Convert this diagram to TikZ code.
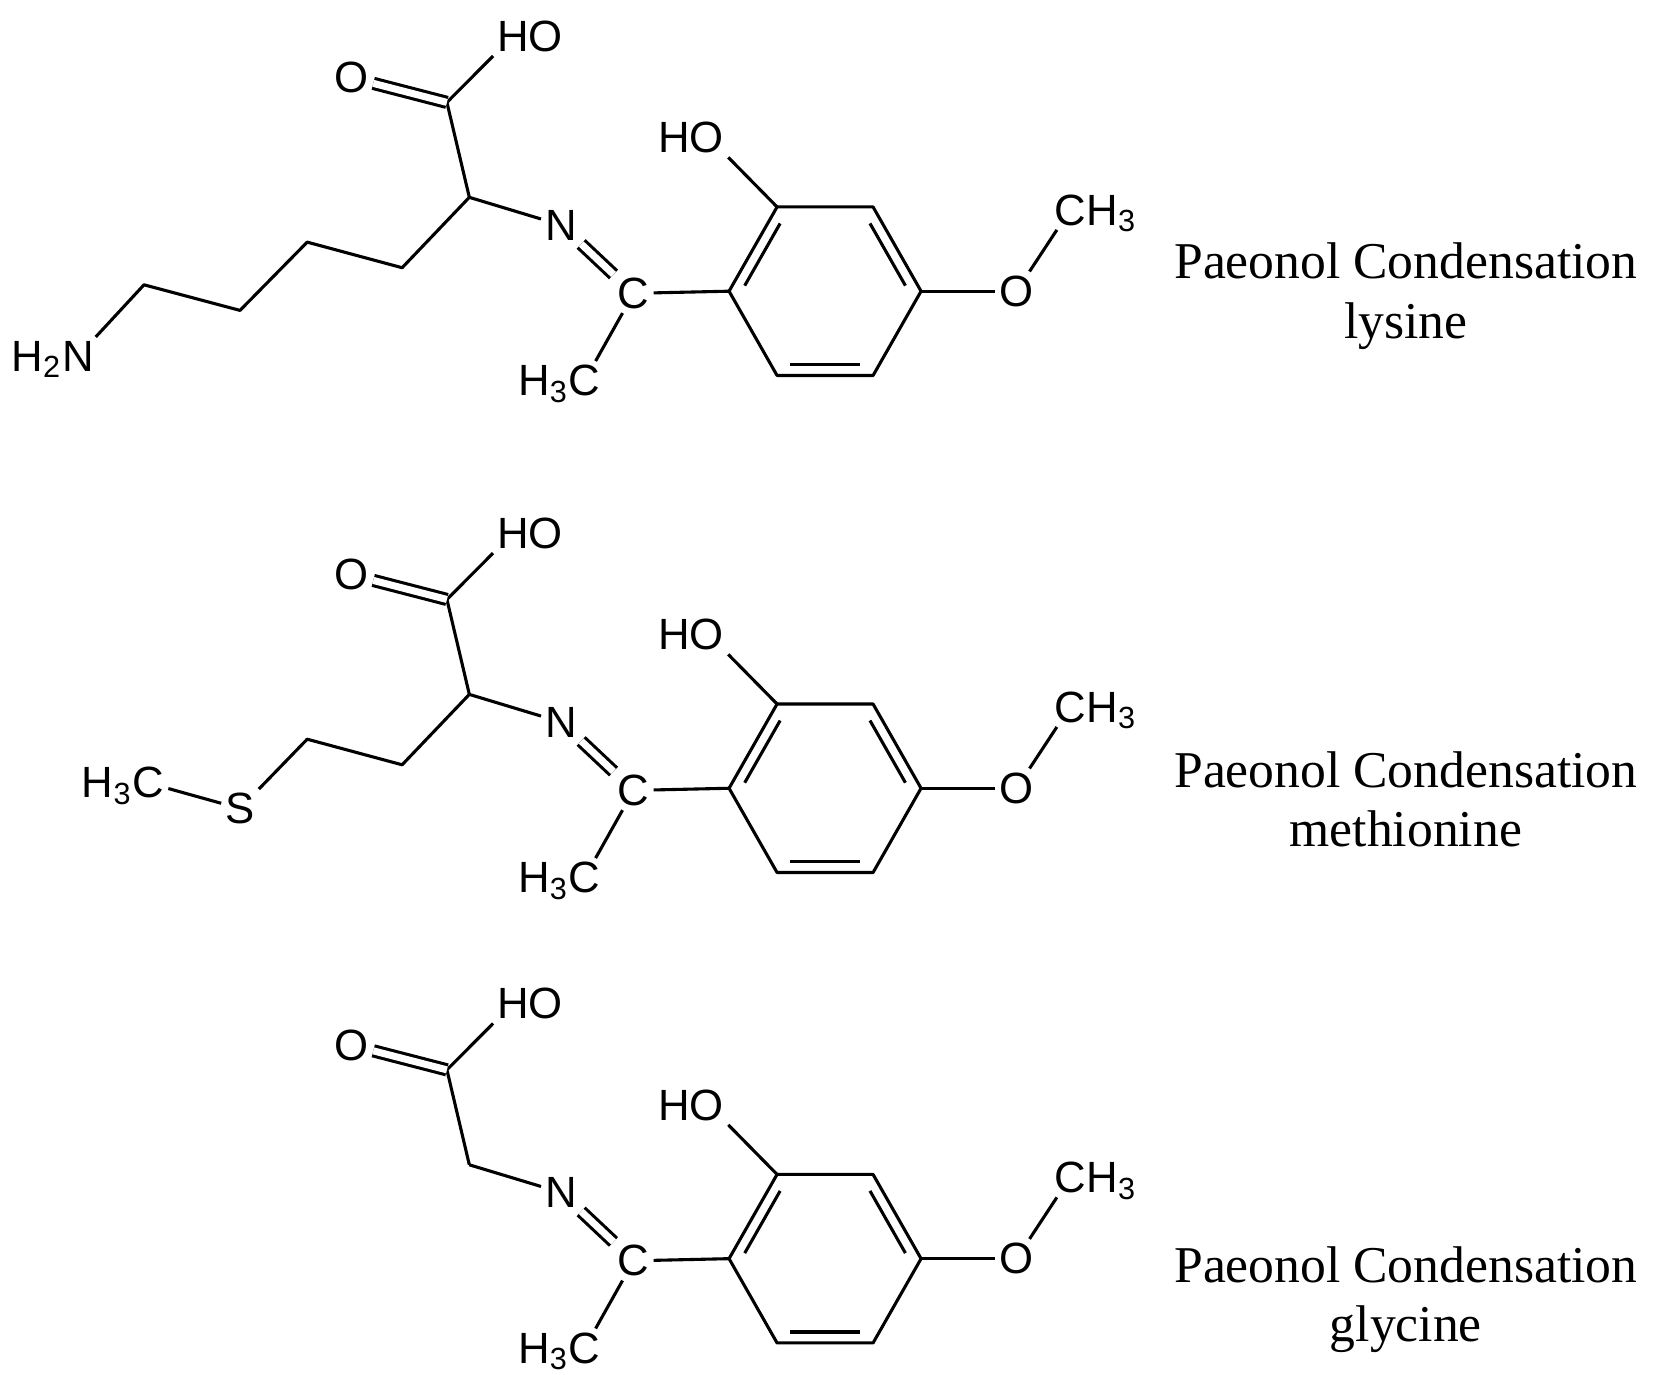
\documentclass[tikz,border=0pt]{standalone}
\usepackage{fontspec}
\setmainfont{Liberation Serif}
\newfontfamily\atomfont{Liberation Sans}
\usetikzlibrary{calc}
\tikzset{
  bond/.style={line width=1.45pt, line join=round},
  dbl/.style={bond, double, double distance=3.3pt},
  atom/.style={inner sep=1.8pt, font=\atomfont\fontsize{20.5}{23}\selectfont},
  hyd/.style={inner sep=0pt, font=\atomfont\fontsize{20.5}{23}\selectfont},
  caption/.style={inner sep=0pt, font=\fontsize{24.2}{29}\selectfont},
  inner/.style={bond, shorten <=3pt, shorten >=3pt},
}
\newcommand\paeonol[2]{%
\begin{scope}[shift={(0,#2)}]
  \coordinate (#1a) at (440,185);
  \coordinate (#1k) at (419,96);
  \node[atom] (#1ok) at (330,73) {O};
  \node[atom] (#1hok) at (497,34) {HO};
  \node[atom] (#1n) at (526,211) {N};
  \node[atom] (#1c) at (594,275) {C};
  \node[atom] (#1mc) at (548,357) {C};
  \node[hyd, anchor=base east] (#1mh) at ([xshift=1.8pt]#1mc.base west) {H\textsubscript{3}};
  \coordinate (#1ctr) at (773.5,273);
  \coordinate (#1L) at (683.5,273);
  \coordinate (#1TL) at (728.5,194);
  \coordinate (#1TR) at (818.5,194);
  \coordinate (#1R) at (863.5,273);
  \coordinate (#1BR) at (818.5,352);
  \coordinate (#1BL) at (728.5,352);
  \node[atom] (#1hor) at (648,129) {HO};
  \node[atom] (#1oe) at (953,273) {O};
  \node[atom] (#1cc) at (1003,197) {C};
  \node[hyd, anchor=base west] (#1ch) at ([xshift=-1.8pt]#1cc.base east) {H\textsubscript{3}};
  \draw[bond] (#1a) -- (#1k) -- (#1hok.south west);
  \draw[dbl] (#1ok) -- (#1k);
  \draw[bond] (#1a) -- (#1n);
  \draw[dbl] (#1n) -- (#1c);
  \draw[bond] (#1c) -- (#1mc);
  \draw[bond] (#1c) -- (#1L);
  \draw[bond] (#1L) -- (#1TL) -- (#1TR) -- (#1R) -- (#1BR) -- (#1BL) -- cycle;
  \draw[inner] ($(#1L)!0.13!(#1ctr)$) -- ($(#1TL)!0.13!(#1ctr)$);
  \draw[inner] ($(#1TR)!0.13!(#1ctr)$) -- ($(#1R)!0.13!(#1ctr)$);
  \draw[inner] ($(#1BR)!0.13!(#1ctr)$) -- ($(#1BL)!0.13!(#1ctr)$);
  \draw[bond] (#1TL) -- (#1hor.south east);
  \draw[bond] (#1R) -- (#1oe);
  \draw[bond] (#1oe) -- (#1cc);
\end{scope}}
\begin{document}
\begin{tikzpicture}[x=0.5pt,y=-0.5pt]
  \useasboundingbox (0,0) rectangle (1560,1289);
  % lysine
  \paeonol{p}{0}
  \coordinate (pc1) at (377,251);
  \coordinate (pc2) at (288,227);
  \coordinate (pc3) at (225,291);
  \coordinate (pc4) at (135,267);
  \node[atom] (pnn) at (73,334) {N};
  \node[hyd, anchor=base east] (pnh) at ([xshift=1.8pt]pnn.base west) {H\textsubscript{2}};
  \draw[bond] (pa) -- (pc1) -- (pc2) -- (pc3) -- (pc4) -- (pnn);
  \node[caption, anchor=base] (pt1) at (1318,261) {Paeonol Condensation};
  \node[caption, anchor=base] (pt2) at (1318,317) {lysine};
  % methionine
  \paeonol{q}{466}
  \coordinate (qc1) at (377,717);
  \coordinate (qc2) at (288,693);
  \node[atom] (qs) at (225,758) {S};
  \node[atom] (qsc) at (139,734) {C};
  \node[hyd, anchor=base east] (qsh) at ([xshift=1.8pt]qsc.base west) {H\textsubscript{3}};
  \draw[bond] (qa) -- (qc1) -- (qc2) -- (qs) -- (qsc);
  \node[caption, anchor=base] (qt1) at (1318,738) {Paeonol Condensation};
  \node[caption, anchor=base] (qt2) at (1318,794) {methionine};
  % glycine
  \paeonol{r}{907}
  \node[caption, anchor=base] (rt1) at (1318,1202) {Paeonol Condensation};
  \node[caption, anchor=base] (rt2) at (1318,1258) {glycine};
\end{tikzpicture}
\end{document}
